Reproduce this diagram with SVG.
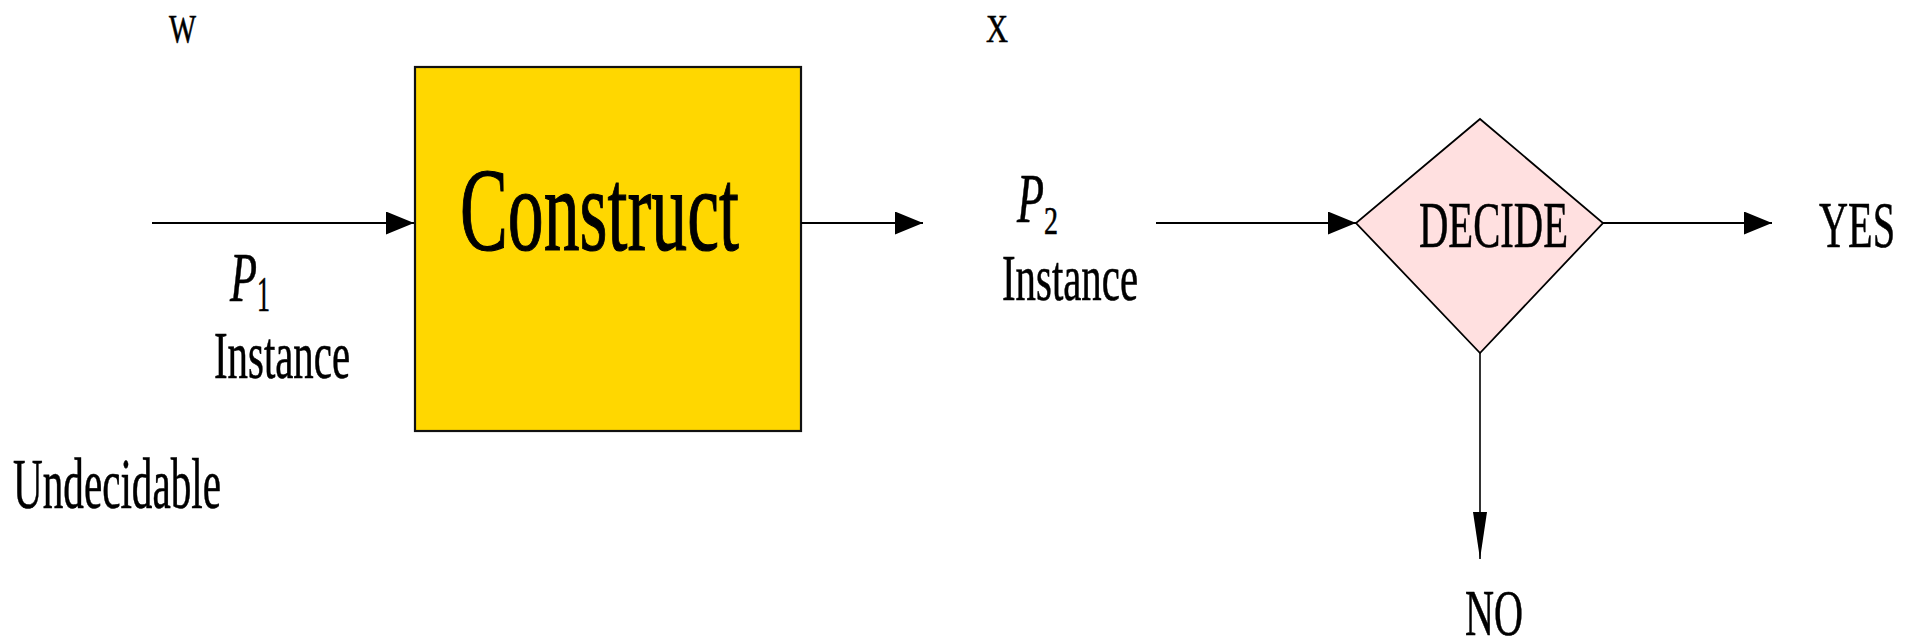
<svg xmlns="http://www.w3.org/2000/svg" width="1909" height="640" viewBox="0 0 1909 640" font-family="'Liberation Serif', 'Times New Roman', serif">
<style>
text { font-family: 'Liberation Serif', 'Times New Roman', serif; fill: #000; stroke: #000; stroke-width: 0.6; }
.big { stroke-width: 1.2; }
.conn { stroke: #000; stroke-width: 2.2; fill: none; }
.thin { stroke: #000; stroke-width: 1.6; fill: none; }
</style>
<defs>
<marker id="arr" viewBox="0 0 28 23" refX="28" refY="11.5" markerWidth="28" markerHeight="23" markerUnits="userSpaceOnUse" orient="auto">
<path d="M0,0 L28,11.5 L0,23 Z" fill="#000"/>
</marker>
<marker id="arrDown" viewBox="0 0 47 14" refX="47" refY="7" markerWidth="47" markerHeight="14" markerUnits="userSpaceOnUse" orient="auto">
<path d="M0,0 L47,7 L0,14 Z" fill="#000"/>
</marker>
</defs>
<rect width="1909" height="640" fill="#fff"/>

<g id="labels">
<text x="169" y="42" font-size="41" textLength="27" lengthAdjust="spacingAndGlyphs">W</text>
<text x="986" y="42" font-size="41" textLength="22" lengthAdjust="spacingAndGlyphs">X</text>
<text x="13" y="508" font-size="71" textLength="208" lengthAdjust="spacingAndGlyphs">Undecidable</text>
</g>

<g id="p1-instance">
<text x="230" y="301" font-size="70" font-style="italic" textLength="27" lengthAdjust="spacingAndGlyphs">P</text>
<text x="257" y="311" font-size="50" textLength="13" lengthAdjust="spacingAndGlyphs">1</text>
<text x="214" y="378" font-size="68" textLength="136" lengthAdjust="spacingAndGlyphs">Instance</text>
</g>

<g id="construct">
<rect x="415" y="67" width="386" height="364" fill="#FFD700" stroke="#111" stroke-width="2.2"/>
<text class="big" x="460" y="250" font-size="119" textLength="279" lengthAdjust="spacingAndGlyphs">Construct</text>
</g>

<g id="p2-instance">
<text x="1017" y="222" font-size="70" font-style="italic" textLength="27" lengthAdjust="spacingAndGlyphs">P</text>
<text x="1044" y="234" font-size="39" textLength="14" lengthAdjust="spacingAndGlyphs">2</text>
<text x="1002" y="300" font-size="66" textLength="136" lengthAdjust="spacingAndGlyphs">Instance</text>
</g>

<g id="decide">
<polygon points="1480,119 1603,223 1480,353 1356,223" fill="#FFE0E0" stroke="#000" stroke-width="1.8"/>
<text x="1419" y="247" font-size="66" textLength="149" lengthAdjust="spacingAndGlyphs">DECIDE</text>
</g>

<g id="yes">
<text x="1819" y="247" font-size="66" textLength="76" lengthAdjust="spacingAndGlyphs">YES</text>
</g>

<g id="no">
<text x="1465" y="635" font-size="66" textLength="58" lengthAdjust="spacingAndGlyphs">NO</text>
</g>

<g id="connectors">
<path class="conn" d="M152,223 H414" marker-end="url(#arr)"/>
<path class="conn" d="M801,223 H923" marker-end="url(#arr)"/>
<path class="conn" d="M1156,223 H1356" marker-end="url(#arr)"/>
<path class="conn" d="M1603,223 H1772" marker-end="url(#arr)"/>
<path class="thin" d="M1480,353 V559" marker-end="url(#arrDown)"/>
</g>
</svg>
